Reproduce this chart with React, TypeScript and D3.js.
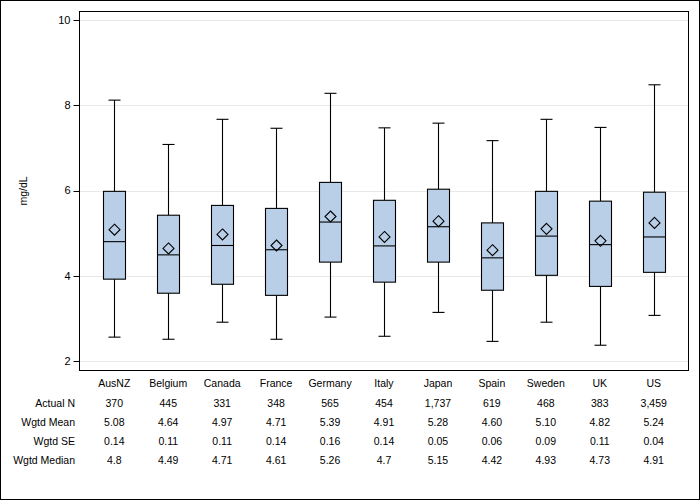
import React from "react";
import * as d3 from "d3";

const categories = ["AusNZ", "Belgium", "Canada", "France", "Germany", "Italy", "Japan", "Spain", "Sweden", "UK", "US"];
const whiskerLow = [2.56, 2.51, 2.91, 2.51, 3.03, 2.58, 3.14, 2.46, 2.91, 2.37, 3.07];
const q1 = [3.92, 3.59, 3.80, 3.54, 4.32, 3.85, 4.32, 3.66, 4.01, 3.75, 4.08];
const median = [4.8, 4.49, 4.71, 4.61, 5.26, 4.7, 5.15, 4.42, 4.93, 4.73, 4.91];
const q3 = [5.98, 5.42, 5.65, 5.58, 6.19, 5.77, 6.03, 5.24, 5.98, 5.75, 5.96];
const whiskerHigh = [8.12, 7.08, 7.67, 7.46, 8.28, 7.47, 7.58, 7.17, 7.67, 7.48, 8.48];
const mean = [5.08, 4.64, 4.97, 4.71, 5.39, 4.91, 5.28, 4.60, 5.10, 4.82, 5.24];

const yTicks = [2, 4, 6, 8, 10];
const yLabel = "mg/dL";

const tableRowLabels = ["Actual N", "Wgtd Mean", "Wgtd SE", "Wgtd Median"];
const actualN = ["370", "445", "331", "348", "565", "454", "1,737", "619", "468", "383", "3,459"];
const wgtdMean = ["5.08", "4.64", "4.97", "4.71", "5.39", "4.91", "5.28", "4.60", "5.10", "4.82", "5.24"];
const wgtdSE = ["0.14", "0.11", "0.11", "0.14", "0.16", "0.14", "0.05", "0.06", "0.09", "0.11", "0.04"];
const wgtdMedian = ["4.8", "4.49", "4.71", "4.61", "5.26", "4.7", "5.15", "4.42", "4.93", "4.73", "4.91"];

const W = 700;
const H = 500;
const frame = { left: 79.5, top: 11.5, right: 688.5, bottom: 370.5 };
const FONT = "'Liberation Sans', Arial, sans-serif";

export default function App() {
  const x = d3.scalePoint<string>().domain(categories).range([114.3, 653.7]);
  const y = d3.scaleLinear().domain([2, 10]).range([361, 20]);
  const boxW = 22;
  const capW = 12;
  const dm = 5.5;
  const rows = [actualN, wgtdMean, wgtdSE, wgtdMedian];
  const rowY = [403.5, 422.5, 441.5, 460.5];
  const fs = 10.5;

  return (
    <div style={{ position: "absolute", left: 0, top: 0 }}>
      <svg width={W} height={H} style={{ display: "block", fontFamily: FONT }}>
        <rect x={0} y={0} width={W} height={H} fill="#fff" />
        <rect x={0.5} y={0.5} width={W - 1} height={H - 1} fill="none" stroke="#000" />
        {yTicks.map((t) => (
          <g key={t}>
            <line x1={frame.left} x2={frame.right} y1={Math.round(y(t)) + 0.5} y2={Math.round(y(t)) + 0.5} stroke="#e8e8e8" />
            <line x1={frame.left - 6} x2={frame.left} y1={Math.round(y(t)) + 0.5} y2={Math.round(y(t)) + 0.5} stroke="#000" />
            <text x={frame.left - 9} y={y(t)} dy="0.35em" textAnchor="end" fontSize={11} fill="#000">
              {t}
            </text>
          </g>
        ))}
        <text transform={`translate(23,${(frame.top + frame.bottom) / 2}) rotate(-90)`} textAnchor="middle" fontSize={fs} dy="0.35em">
          {yLabel}
        </text>
        {categories.map((c, i) => {
          const cx = Math.round(x(c) as number) + 0.5;
          return (
            <g key={c} stroke="#000" strokeWidth={1.1}>
              <line x1={cx} x2={cx} y1={y(whiskerHigh[i])} y2={y(q3[i])} />
              <line x1={cx} x2={cx} y1={y(q1[i])} y2={y(whiskerLow[i])} />
              <line x1={cx - capW / 2} x2={cx + capW / 2} y1={y(whiskerHigh[i])} y2={y(whiskerHigh[i])} />
              <line x1={cx - capW / 2} x2={cx + capW / 2} y1={y(whiskerLow[i])} y2={y(whiskerLow[i])} />
              <rect x={cx - boxW / 2} y={y(q3[i])} width={boxW} height={y(q1[i]) - y(q3[i])} fill="#b9cfe7" />
              <line x1={cx - boxW / 2} x2={cx + boxW / 2} y1={y(median[i])} y2={y(median[i])} />
              <path
                d={`M${cx},${y(mean[i]) - dm}L${cx + dm},${y(mean[i])}L${cx},${y(mean[i]) + dm}L${cx - dm},${y(mean[i])}Z`}
                fill="none"
              />
            </g>
          );
        })}
        <rect x={frame.left} y={frame.top} width={frame.right - frame.left} height={frame.bottom - frame.top} fill="none" stroke="#000" />
        {categories.map((c) => (
          <text key={c} x={x(c)} y={383.5} dy="0.35em" textAnchor="middle" fontSize={fs}>
            {c}
          </text>
        ))}
        {tableRowLabels.map((lab, r) => (
          <g key={lab}>
            <text x={75} y={rowY[r]} dy="0.35em" textAnchor="end" fontSize={fs}>
              {lab}
            </text>
            {categories.map((c, i) => (
              <text key={c} x={x(c)} y={rowY[r]} dy="0.35em" textAnchor="middle" fontSize={fs}>
                {rows[r][i]}
              </text>
            ))}
          </g>
        ))}
      </svg>
    </div>
  );
}
